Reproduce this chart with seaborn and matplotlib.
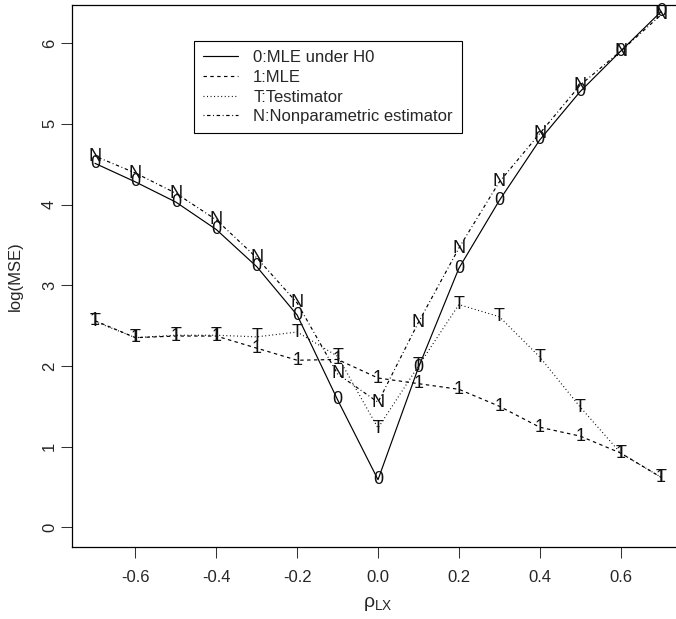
import matplotlib
matplotlib.use("Agg")
import matplotlib.pyplot as plt
import seaborn as sns
import numpy as np
import pandas as pd

# Correlation grid
rho = [-0.7, -0.6, -0.5, -0.4, -0.3, -0.2, -0.1, 0.0, 0.1, 0.2, 0.3, 0.4, 0.5, 0.6, 0.7]

# log(MSE) for each estimator
mle_h0 = [4.51, 4.28, 4.03, 3.69, 3.23, 2.63, 1.58, 0.59, 1.98, 3.21, 4.05, 4.80, 5.40, 5.90, 6.39]
mle = [2.56, 2.35, 2.37, 2.37, 2.22, 2.07, 2.08, 1.85, 1.78, 1.71, 1.50, 1.24, 1.13, 0.92, 0.62]
testimator = [2.55, 2.35, 2.38, 2.38, 2.36, 2.42, 2.12, 1.23, 2.00, 2.76, 2.61, 2.11, 1.49, 0.92, 0.62]
nonpar = [4.60, 4.39, 4.14, 3.81, 3.34, 2.78, 1.90, 1.55, 2.54, 3.46, 4.28, 4.88, 5.48, 5.90, 6.35]

labels = ["0:MLE under H0", "1:MLE", "T:Testimator", "N:Nonparametric estimator"]
symbols = ["0", "1", "T", "N"]
series = [mle_h0, mle, testimator, nonpar]
styles = ["-", (0, (2.9, 2.9)), (0, (0.8, 2.2)), (0, (0.8, 2.2, 2.9, 2.2))]

sns.set_style("white")
plt.rcParams["font.family"] = ["Liberation Sans", "DejaVu Sans"]
plt.rcParams["mathtext.fontset"] = "custom"
plt.rcParams["mathtext.rm"] = "Liberation Sans"
plt.rcParams["mathtext.it"] = "Liberation Sans:italic"

fig = plt.figure(figsize=(6.76, 6.19), dpi=100)
ax = fig.add_axes([0.1070, 0.1158, 0.9044, 0.8761])

for vals, lab, ls, sym in zip(series, labels, styles, symbols):
    df = pd.DataFrame({"rho": rho, "val": vals})
    sns.lineplot(data=df, x="rho", y="val", ax=ax, color="black",
                 linewidth=0.85, linestyle=ls, label=lab)
    for xv, yv in zip(rho, vals):
        ax.text(xv, yv, sym, ha="center", va="center", fontsize=13,
                color="#111111", zorder=5)

ax.set_xlim(-0.756, 0.756)
ax.set_ylim(-0.248, 6.472)
ax.set_xticks([-0.6, -0.4, -0.2, 0.0, 0.2, 0.4, 0.6])
ax.set_xticklabels(["-0.6", "-0.4", "-0.2", "0.0", "0.2", "0.4", "0.6"])
ax.set_yticks([0, 1, 2, 3, 4, 5, 6])
ax.tick_params(axis="both", which="major", direction="out", length=8,
               width=0.75, color="#333333", labelsize=12, bottom=True, left=True)
ax.tick_params(axis="x", pad=8)
ax.tick_params(axis="y", pad=3)
for t in ax.get_yticklabels():
    t.set_rotation(90)
    t.set_va("center")

for s in ax.spines.values():
    s.set_color("black")
    s.set_linewidth(0.9)

ax.set_xlabel(r"$\mathrm{\rho}_{\mathrm{LX}}$", fontsize=14)
ax.xaxis.set_label_coords(0.5, -0.088)
ax.set_ylabel("log(MSE)", fontsize=12)
ax.yaxis.set_label_coords(-0.081, 0.5)

leg = ax.legend(loc="upper left", bbox_to_anchor=(194 / 676, 1 - 41 / 619),
                bbox_transform=fig.transFigure, borderaxespad=0, fontsize=12,
                frameon=True, fancybox=False, framealpha=1, edgecolor="black",
                handlelength=2.1, handletextpad=0.9, labelspacing=0.28,
                borderpad=0.55)
leg.get_frame().set_linewidth(0.8)

fig.savefig("out.png", dpi=100)
